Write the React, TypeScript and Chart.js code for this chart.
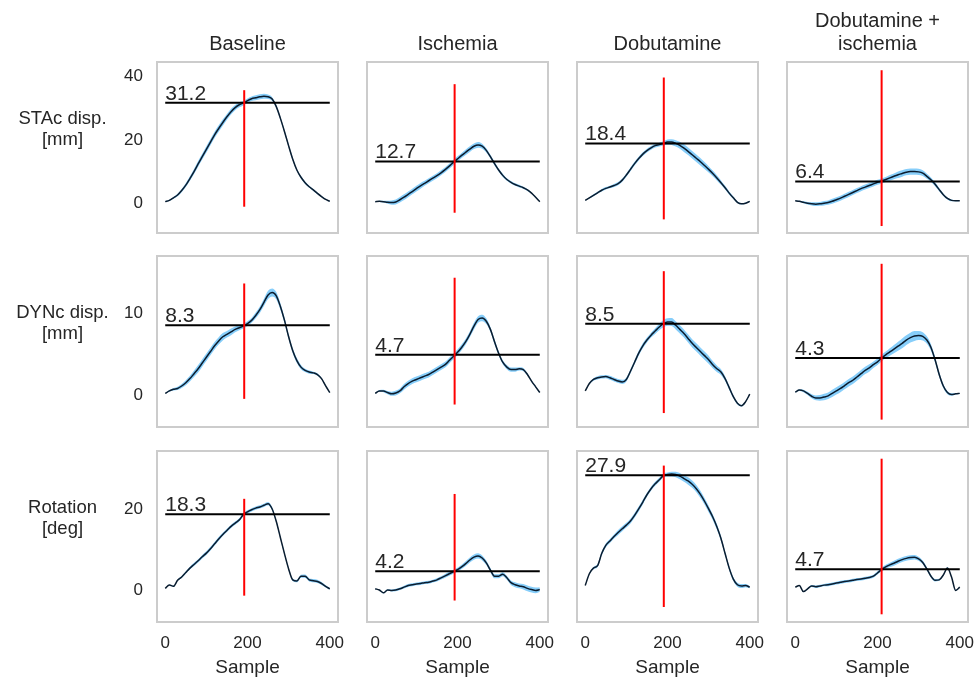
import React, { useEffect, useRef } from 'react';
import { Chart, registerables } from 'chart.js';

Chart.register(...registerables);

// ---------------- data ----------------
const SAMPLES = [0, 10, 20, 30, 40, 50, 60, 70, 80, 90, 100, 110, 120, 130, 140, 150, 160, 170, 180, 190, 200,
  210, 220, 230, 240, 250, 260, 270, 280, 290, 300, 310, 320, 330, 340, 350, 360, 370, 380, 390, 400];

const CONDITIONS = ['Baseline', 'Ischemia', 'Dobutamine', 'Dobutamine +\nischemia'];
const MEASURES = ['STAc disp.\n[mm]', 'DYNc disp.\n[mm]', 'Rotation\n[deg]'];
const X_LABEL = 'Sample';

const X_TICKS = [0, 200, 400];
const Y_TICKS_STAC = [0, 20, 40];
const Y_TICKS_DYNC = [0, 10];
const Y_TICKS_ROT = [0, 20];

// STAc displacement (mean)
const STAC_BASELINE = [0.0, 0.4, 1.2, 2.1, 3.5, 5.2, 7.3, 9.5, 11.9, 14.2, 16.5, 18.8, 21.1, 23.1, 25.0, 26.8, 28.4, 29.7, 30.6, 31.1, 31.9,
  32.5, 32.8, 33.1, 33.3, 33.1, 32.4, 30.0, 26.3, 22.1, 17.6, 13.4, 10.0, 7.7, 6.0, 4.7, 3.7, 2.6, 1.6, 0.7, 0.1];
const STAC_ISCHEMIA = [0.0, 0.1, 0.0, -0.2, -0.3, -0.1, 0.6, 1.4, 2.3, 3.2, 4.1, 5.0, 5.8, 6.6, 7.4, 8.2, 9.1, 10.1, 11.2, 12.4, 13.5,
  14.6, 15.6, 16.6, 17.5, 17.9, 17.5, 16.2, 14.2, 12.0, 10.0, 8.3, 7.0, 6.1, 5.4, 4.9, 4.4, 3.7, 2.7, 1.4, 0.0];
const STAC_DOBUTAMINE = [0.4, 1.2, 2.0, 2.8, 3.6, 4.2, 4.6, 5.1, 5.7, 6.8, 8.4, 10.2, 12.0, 13.6, 15.0, 16.1, 17.0, 17.7, 18.0, 18.4, 18.8,
  18.8, 18.4, 17.8, 16.9, 15.9, 14.8, 13.7, 12.6, 11.4, 10.2, 8.9, 7.5, 6.0, 4.4, 2.7, 1.2, -0.2, -0.7, -0.5, 0.1];
const STAC_DOB_ISCH = [0.3, 0.1, -0.2, -0.5, -0.7, -0.8, -0.7, -0.5, -0.3, 0.1, 0.6, 1.1, 1.7, 2.3, 2.9, 3.5, 4.1, 4.6, 5.1, 5.6, 6.1,
  6.5, 7.0, 7.5, 8.0, 8.5, 8.9, 9.3, 9.5, 9.5, 9.4, 9.0, 8.0, 6.9, 5.5, 3.8, 2.2, 1.0, 0.4, 0.3, 0.3];

// DYNc displacement (mean)
const DYNC_BASELINE = [0.0, 0.3, 0.5, 0.6, 0.9, 1.3, 1.8, 2.4, 3.0, 3.7, 4.4, 5.1, 5.8, 6.4, 6.9, 7.2, 7.5, 7.8, 8.0, 8.2, 8.5,
  8.9, 9.5, 10.2, 11.1, 12.0, 12.3, 11.9, 10.6, 8.9, 6.9, 5.2, 4.0, 3.2, 2.8, 2.6, 2.5, 2.3, 1.8, 0.9, 0.1];
const DYNC_ISCHEMIA = [0.0, 0.3, 0.3, 0.1, -0.05, 0.05, 0.3, 0.8, 1.2, 1.5, 1.7, 1.9, 2.1, 2.3, 2.6, 2.9, 3.2, 3.5, 4.0, 4.5, 5.0,
  5.6, 6.3, 7.2, 8.2, 9.0, 9.2, 8.8, 7.8, 6.3, 4.9, 3.8, 3.2, 2.9, 2.9, 3.0, 2.9, 2.3, 1.5, 0.8, 0.1];
const DYNC_DOBUTAMINE = [0.3, 1.2, 1.7, 1.9, 2.0, 2.05, 1.9, 1.7, 1.5, 1.4, 1.7, 2.7, 3.8, 4.9, 5.8, 6.5, 7.1, 7.6, 8.1, 8.5, 8.7,
  8.7, 8.3, 7.8, 7.3, 6.7, 6.1, 5.6, 5.1, 4.6, 4.1, 3.5, 3.0, 2.6, 1.8, 0.7, -0.4, -1.2, -1.5, -1.0, -0.1];
const DYNC_DOB_ISCH = [0.15, 0.4, 0.3, 0.0, -0.35, -0.55, -0.55, -0.45, -0.3, 0.0, 0.3, 0.6, 0.95, 1.3, 1.6, 2.0, 2.4, 2.8, 3.1, 3.5, 3.85,
  4.3, 4.7, 5.05, 5.4, 5.75, 6.1, 6.5, 6.8, 7.0, 7.05, 6.95, 6.5, 5.6, 4.1, 2.3, 0.9, 0.1, -0.15, -0.05, 0.0];

// Rotation (mean)
const ROT_BASELINE = [0.0, 0.85, 0.5, 2.0, 2.8, 3.9, 5.0, 5.9, 6.8, 7.8, 8.7, 9.8, 11.0, 12.2, 13.3, 14.3, 15.3, 16.1, 16.9, 18.2, 18.9,
  19.4, 19.8, 20.1, 20.5, 20.9, 19.6, 16.5, 12.5, 8.5, 4.8, 2.1, 1.8, 3.0, 3.0, 2.1, 1.9, 1.7, 1.2, 0.5, -0.1];
const ROT_ISCHEMIA = [-0.1, -0.4, -1.1, -0.4, -0.5, -0.4, -0.1, 0.3, 0.7, 0.9, 1.1, 1.2, 1.4, 1.5, 1.8, 2.1, 2.6, 3.1, 3.6, 4.1, 4.6,
  5.3, 6.1, 7.0, 7.7, 8.0, 7.5, 6.3, 4.5, 3.0, 3.0, 3.5, 2.6, 1.4, 0.9, 0.6, 0.4, 0.0, -0.3, -0.5, -0.3];
const ROT_DOBUTAMINE = [0.7, 3.6, 5.0, 5.6, 8.6, 10.6, 11.7, 12.8, 13.8, 14.7, 15.6, 16.6, 18.0, 19.6, 21.3, 23.1, 24.6, 25.8, 26.8, 27.85, 28.1,
  28.2, 28.1, 27.7, 27.1, 26.5, 25.7, 24.6, 23.2, 21.5, 19.6, 17.6, 15.2, 12.3, 8.6, 5.0, 2.3, 0.9, 0.6, 0.7, 0.3];
const ROT_DOB_ISCH = [0.3, 0.7, -0.8, -0.1, 0.6, 0.4, 0.6, 0.8, 0.9, 1.1, 1.3, 1.5, 1.7, 1.8, 2.0, 2.2, 2.3, 2.5, 2.7, 3.0, 3.8,
  4.65, 5.3, 5.8, 6.2, 6.7, 7.1, 7.4, 7.6, 7.7, 7.3, 6.4, 4.8, 3.0, 2.0, 2.1, 3.3, 5.0, 2.8, -0.5, 0.3];

// Spread (half-width of the shaded band)
const SD_STAC_BASELINE = [0.1, 0.2, 0.3, 0.4, 0.5, 0.6, 0.7, 0.8, 0.9, 0.9, 1.0, 1.0, 1.0, 1.0, 1.0, 0.9, 0.9, 0.8, 0.8, 0.7, 0.7,
  0.7, 0.8, 0.8, 0.8, 0.7, 0.6, 0.5, 0.5, 0.5, 0.5, 0.5, 0.4, 0.4, 0.4, 0.3, 0.3, 0.3, 0.2, 0.2, 0.1];
const SD_STAC_ISCHEMIA = [0.1, 0.2, 0.3, 0.5, 0.7, 0.8, 0.9, 0.9, 0.9, 0.9, 0.9, 0.9, 0.8, 0.8, 0.8, 0.8, 0.8, 0.8, 0.8, 0.8, 0.8,
  0.8, 0.9, 0.9, 0.9, 0.9, 0.8, 0.7, 0.6, 0.6, 0.5, 0.5, 0.4, 0.4, 0.4, 0.4, 0.3, 0.3, 0.2, 0.2, 0.1];
const SD_STAC_DOBUTAMINE = [0.1, 0.2, 0.3, 0.3, 0.4, 0.4, 0.4, 0.5, 0.5, 0.5, 0.5, 0.6, 0.6, 0.6, 0.6, 0.6, 0.6, 0.6, 0.6, 0.7, 0.8,
  0.9, 1.0, 1.1, 1.2, 1.2, 1.2, 1.2, 1.2, 1.1, 1.0, 0.9, 0.8, 0.7, 0.6, 0.5, 0.4, 0.3, 0.2, 0.2, 0.1];
const SD_STAC_DOB_ISCH = [0.1, 0.2, 0.3, 0.4, 0.5, 0.6, 0.6, 0.7, 0.7, 0.8, 0.8, 0.8, 0.8, 0.8, 0.8, 0.8, 0.8, 0.8, 0.8, 0.8, 0.8,
  0.8, 0.8, 0.9, 0.9, 1.0, 1.0, 1.0, 1.0, 1.0, 1.0, 0.9, 0.8, 0.7, 0.6, 0.5, 0.4, 0.3, 0.3, 0.2, 0.1];
const SD_DYNC_BASELINE = [0.05, 0.1, 0.15, 0.2, 0.25, 0.3, 0.35, 0.4, 0.45, 0.45, 0.45, 0.45, 0.45, 0.45, 0.45, 0.4, 0.4, 0.35, 0.3, 0.3, 0.3,
  0.3, 0.35, 0.4, 0.45, 0.5, 0.5, 0.45, 0.4, 0.35, 0.3, 0.3, 0.3, 0.25, 0.2, 0.2, 0.15, 0.15, 0.1, 0.1, 0.05];
const SD_DYNC_ISCHEMIA = [0.05, 0.1, 0.15, 0.2, 0.25, 0.3, 0.3, 0.35, 0.35, 0.35, 0.35, 0.35, 0.35, 0.35, 0.35, 0.35, 0.35, 0.35, 0.35, 0.35, 0.35,
  0.35, 0.35, 0.35, 0.4, 0.4, 0.4, 0.35, 0.3, 0.3, 0.25, 0.25, 0.25, 0.25, 0.25, 0.2, 0.2, 0.15, 0.1, 0.1, 0.05];
const SD_DYNC_DOBUTAMINE = [0.05, 0.1, 0.15, 0.2, 0.2, 0.2, 0.25, 0.25, 0.25, 0.25, 0.25, 0.25, 0.25, 0.3, 0.3, 0.3, 0.3, 0.35, 0.4, 0.45, 0.45,
  0.5, 0.5, 0.5, 0.5, 0.5, 0.5, 0.5, 0.5, 0.5, 0.5, 0.45, 0.4, 0.35, 0.3, 0.25, 0.2, 0.15, 0.1, 0.1, 0.05];
const SD_DYNC_DOB_ISCH = [0.05, 0.1, 0.15, 0.2, 0.25, 0.3, 0.35, 0.4, 0.4, 0.45, 0.45, 0.45, 0.45, 0.45, 0.45, 0.45, 0.45, 0.45, 0.45, 0.4, 0.4,
  0.4, 0.4, 0.45, 0.5, 0.55, 0.6, 0.6, 0.6, 0.6, 0.55, 0.5, 0.45, 0.4, 0.35, 0.3, 0.25, 0.2, 0.15, 0.1, 0.05];
const SD_ROT_BASELINE = [0.05, 0.1, 0.15, 0.2, 0.25, 0.3, 0.35, 0.4, 0.4, 0.45, 0.45, 0.45, 0.45, 0.45, 0.4, 0.4, 0.4, 0.4, 0.4, 0.4, 0.4,
  0.4, 0.4, 0.4, 0.4, 0.4, 0.4, 0.35, 0.3, 0.3, 0.3, 0.3, 0.3, 0.35, 0.4, 0.4, 0.4, 0.4, 0.35, 0.3, 0.25];
const SD_ROT_ISCHEMIA = [0.05, 0.1, 0.15, 0.2, 0.25, 0.3, 0.3, 0.35, 0.35, 0.35, 0.35, 0.35, 0.35, 0.35, 0.35, 0.4, 0.4, 0.45, 0.5, 0.5, 0.5,
  0.55, 0.6, 0.6, 0.65, 0.65, 0.6, 0.55, 0.5, 0.5, 0.5, 0.5, 0.5, 0.55, 0.6, 0.6, 0.65, 0.7, 0.7, 0.7, 0.6];
const SD_ROT_DOBUTAMINE = [0.1, 0.2, 0.3, 0.4, 0.5, 0.5, 0.5, 0.5, 0.6, 0.6, 0.6, 0.6, 0.6, 0.6, 0.6, 0.5, 0.5, 0.5, 0.5, 0.5, 0.5,
  0.6, 0.7, 0.8, 0.8, 0.9, 0.9, 0.9, 0.9, 0.8, 0.8, 0.7, 0.7, 0.6, 0.5, 0.5, 0.5, 0.5, 0.5, 0.4, 0.3];
const SD_ROT_DOB_ISCH = [0.05, 0.1, 0.15, 0.2, 0.25, 0.3, 0.3, 0.3, 0.35, 0.35, 0.35, 0.35, 0.35, 0.35, 0.35, 0.35, 0.35, 0.35, 0.35, 0.35, 0.4,
  0.45, 0.5, 0.55, 0.6, 0.6, 0.6, 0.6, 0.6, 0.55, 0.5, 0.45, 0.4, 0.35, 0.3, 0.25, 0.2, 0.2, 0.2, 0.15, 0.1];

// Reference values (horizontal lines + labels)
const REF_STAC = [31.2, 12.7, 18.4, 6.4];
const REF_DYNC = [8.3, 4.7, 8.5, 4.3];
const REF_ROT = [18.3, 4.2, 27.9, 4.7];

// Vertical markers: sample position and vertical extent
const MARKER_X = [192, 193, 191, 210];
const MARKER_LOW_STAC = [-1.6, -3.5, -5.6, -7.7];
const MARKER_HIGH_STAC = [35.2, 37.1, 39.2, 41.5];
const MARKER_LOW_DYNC = [-0.67, -1.36, -2.4, -3.2];
const MARKER_HIGH_DYNC = [13.4, 14.1, 14.9, 15.8];
const MARKER_LOW_ROT = [-1.8, -3.0, -4.6, -6.4];
const MARKER_HIGH_ROT = [22.1, 23.3, 30.3, 32.0];

// ---------------- tables built from the data ----------------
const MEANS = [
  [STAC_BASELINE, STAC_ISCHEMIA, STAC_DOBUTAMINE, STAC_DOB_ISCH],
  [DYNC_BASELINE, DYNC_ISCHEMIA, DYNC_DOBUTAMINE, DYNC_DOB_ISCH],
  [ROT_BASELINE, ROT_ISCHEMIA, ROT_DOBUTAMINE, ROT_DOB_ISCH],
];
const SDS = [
  [SD_STAC_BASELINE, SD_STAC_ISCHEMIA, SD_STAC_DOBUTAMINE, SD_STAC_DOB_ISCH],
  [SD_DYNC_BASELINE, SD_DYNC_ISCHEMIA, SD_DYNC_DOBUTAMINE, SD_DYNC_DOB_ISCH],
  [SD_ROT_BASELINE, SD_ROT_ISCHEMIA, SD_ROT_DOBUTAMINE, SD_ROT_DOB_ISCH],
];
const REFS = [REF_STAC, REF_DYNC, REF_ROT];
const MARKER_LOW = [MARKER_LOW_STAC, MARKER_LOW_DYNC, MARKER_LOW_ROT];
const MARKER_HIGH = [MARKER_HIGH_STAC, MARKER_HIGH_DYNC, MARKER_HIGH_ROT];
const Y_TICKS = [Y_TICKS_STAC, Y_TICKS_DYNC, Y_TICKS_ROT];

// ---------------- layout / style ----------------
const PAGE_W = 975;
const PAGE_H = 677;
const BOX_LEFT = [157, 367, 577, 787];
const BOX_TOP = [62, 256, 451];
const BOX_W = 181;
const BOX_H = 171;
const PAD = 40;
const X_RANGE = [-20, 420];
const Y_RANGES = [[-9.9, 44.1], [-4.1, 16.75], [-8.3, 33.9]];
const FONT = '"Liberation Sans", Arial, Helvetica, sans-serif';
const TEXT = '#262626';
const BAND = 'rgb(135, 206, 250)';
const CURVE = '#0b1c2e';

function Panel({ r, c }: { r: number; c: number }) {
  const ref = useRef<HTMLCanvasElement | null>(null);
  const left = c === 0 ? 0 : BOX_LEFT[c] - PAD;
  const top = r === 0 ? 0 : BOX_TOP[r] - PAD;
  const width = BOX_LEFT[c] + BOX_W + PAD - left;
  const height = r === 2 ? PAGE_H - top : BOX_TOP[r] + BOX_H + PAD - top;
  const showX = r === 2;
  const showY = c === 0;

  useEffect(() => {
    if (!ref.current) return;
    const mean = MEANS[r][c];
    const sd = SDS[r][c];
    const refVal = REFS[r][c];
    const meanPts = SAMPLES.map((x, i) => ({ x, y: mean[i] }));
    const upPts = SAMPLES.map((x, i) => ({ x, y: mean[i] + sd[i] }));
    const loPts = SAMPLES.map((x, i) => ({ x, y: mean[i] - sd[i] }));

    const decor = {
      id: 'decor' + r + c,
      afterDatasetsDraw(chart: any) {
        const ctx = chart.ctx;
        const a = chart.chartArea;
        const xs = chart.scales.x;
        const ys = chart.scales.y;
        ctx.save();
        ctx.fillStyle = TEXT;
        ctx.font = `21px ${FONT}`;
        ctx.textAlign = 'left';
        ctx.textBaseline = 'alphabetic';
        ctx.fillText(refVal.toFixed(1), xs.getPixelForValue(0), ys.getPixelForValue(refVal) - 3);
        ctx.strokeStyle = '#cccccc';
        ctx.lineWidth = 2;
        ctx.strokeRect(a.left, a.top, a.right - a.left, a.bottom - a.top);
        ctx.restore();
      },
      afterDraw(chart: any) {
        const ctx = chart.ctx;
        const a = chart.chartArea;
        const cx = (a.left + a.right) / 2;
        ctx.save();
        ctx.fillStyle = TEXT;
        ctx.textAlign = 'center';
        ctx.textBaseline = 'alphabetic';
        if (r === 0) {
          ctx.font = `20px ${FONT}`;
          const lines = CONDITIONS[c].split('\n');
          lines.forEach((ln, i) => {
            ctx.fillText(ln, cx, a.top - 12 - (lines.length - 1 - i) * 23);
          });
        }
        if (c === 0) {
          ctx.font = `18.5px ${FONT}`;
          const lines = MEASURES[r].split('\n');
          const cy = (a.top + a.bottom) / 2;
          lines.forEach((ln, i) => {
            ctx.fillText(ln, 62.5, cy - 3 - (lines.length - 1 - i) * 21);
          });
        }
        if (r === 2) {
          ctx.font = `19px ${FONT}`;
          ctx.fillText(X_LABEL, cx, a.bottom + 51);
        }
        ctx.restore();
      },
    };

    const chart = new Chart(ref.current, {
      type: 'line',
      data: {
        datasets: [
          {
            data: [{ x: MARKER_X[c], y: MARKER_LOW[r][c] }, { x: MARKER_X[c], y: MARKER_HIGH[r][c] }],
            borderColor: '#ff0000', borderWidth: 2, pointRadius: 0, tension: 0, fill: false, order: 1,
          },
          {
            data: [{ x: 0, y: refVal }, { x: 400, y: refVal }],
            borderColor: '#000000', borderWidth: 2, pointRadius: 0, tension: 0, fill: false, order: 2,
          },
          {
            data: meanPts,
            borderColor: CURVE, borderWidth: 1.5, pointRadius: 0, tension: 0.4,
            cubicInterpolationMode: 'monotone', fill: false, order: 3,
          },
          {
            data: upPts,
            borderColor: 'rgba(0,0,0,0)', borderWidth: 0, pointRadius: 0, tension: 0.4,
            cubicInterpolationMode: 'monotone', backgroundColor: BAND, fill: 4, order: 4,
          },
          {
            data: loPts,
            borderColor: 'rgba(0,0,0,0)', borderWidth: 0, pointRadius: 0, tension: 0.4,
            cubicInterpolationMode: 'monotone', fill: false, order: 5,
          },
        ],
      } as any,
      options: {
        responsive: false,
        animation: false,
        devicePixelRatio: 1,
        events: [],
        layout: {
          padding: {
            left: showY ? 0 : PAD,
            top: BOX_TOP[r] - top,
            right: PAD,
            bottom: showX ? 0 : PAD,
          },
        },
        plugins: { legend: { display: false }, tooltip: { enabled: false }, title: { display: false } },
        scales: {
          x: {
            type: 'linear',
            min: X_RANGE[0],
            max: X_RANGE[1],
            display: showX,
            grid: { display: false, drawTicks: false },
            border: { display: false },
            ticks: { padding: 11, color: TEXT, font: { family: FONT, size: 17 }, maxRotation: 0, autoSkip: false },
            afterBuildTicks: (s: any) => { s.ticks = X_TICKS.map((v) => ({ value: v })); },
            afterFit: (s: any) => { if (showX) s.height = PAGE_H - (BOX_TOP[r] + BOX_H); },
          },
          y: {
            type: 'linear',
            min: Y_RANGES[r][0],
            max: Y_RANGES[r][1],
            display: showY,
            grid: { display: false, drawTicks: false },
            border: { display: false },
            ticks: { padding: 14, labelOffset: 1.5, color: TEXT, font: { family: FONT, size: 17 }, autoSkip: false },
            afterBuildTicks: (s: any) => { s.ticks = Y_TICKS[r].map((v) => ({ value: v })); },
            afterFit: (s: any) => { if (showY) s.width = BOX_LEFT[0]; },
          },
        },
      } as any,
      plugins: [decor],
    });
    return () => chart.destroy();
  }, [r, c]);

  return (
    <canvas
      ref={ref}
      width={width}
      height={height}
      style={{ position: 'absolute', left, top, width, height }}
    />
  );
}

export default function App() {
  const panels = [];
  for (let r = 0; r < 3; r++) {
    for (let c = 0; c < 4; c++) {
      panels.push(<Panel key={`${r}-${c}`} r={r} c={c} />);
    }
  }
  return (
    <div
      style={{
        position: 'fixed', left: 0, top: 0, width: PAGE_W, height: PAGE_H,
        overflow: 'hidden', background: '#ffffff',
      }}
    >
      {panels}
    </div>
  );
}
